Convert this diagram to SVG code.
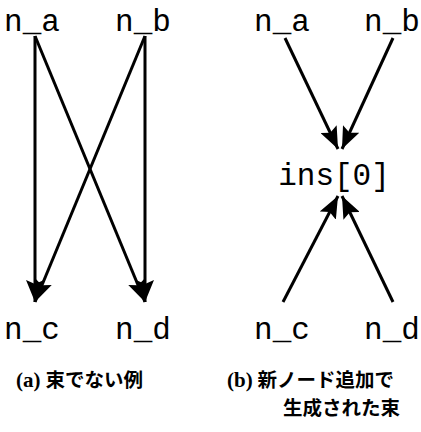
<svg xmlns="http://www.w3.org/2000/svg" width="421" height="432" viewBox="0 0 421 432">
<defs>
<style>
.lbl{font-family:"Liberation Mono","DejaVu Sans Mono",monospace;font-size:31px;fill:#000;text-anchor:middle}
.cap{font-family:"Liberation Serif","Noto Sans CJK JP",serif;font-size:19.5px;font-weight:bold;fill:#000}
.par{font-size:21px}
.edge{stroke:#000;stroke-width:3;fill:none;marker-end:url(#ah)}
</style>
<marker id="ah" viewBox="0 0 22 18" refX="22" refY="9" markerWidth="22" markerHeight="18" orient="auto" markerUnits="userSpaceOnUse">
<path d="M0,0 L22,9 L0,18 L4,9 z" fill="#000"/>
</marker>
</defs>
<rect width="421" height="432" fill="#fff"/>
<g id="edges">
<line class="edge" x1="35" y1="36" x2="35" y2="302"/>
<line class="edge" x1="35" y1="36" x2="145" y2="302"/>
<line class="edge" x1="145" y1="36" x2="145" y2="302"/>
<line class="edge" x1="145" y1="36" x2="35" y2="302"/>
<line class="edge" x1="285" y1="38" x2="338" y2="149"/>
<line class="edge" x1="393" y1="38" x2="342" y2="149"/>
<line class="edge" x1="283" y1="302" x2="338" y2="196"/>
<line class="edge" x1="393" y1="302" x2="342" y2="196"/>
</g>
<g id="a_n_a"><text class="lbl" x="32" y="31">n_a</text></g>
<g id="a_n_b"><text class="lbl" x="143" y="31">n_b</text></g>
<g id="a_n_c"><text class="lbl" x="32" y="339">n_c</text></g>
<g id="a_n_d"><text class="lbl" x="143" y="339">n_d</text></g>
<g id="b_n_a"><text class="lbl" x="282" y="31">n_a</text></g>
<g id="b_n_b"><text class="lbl" x="392" y="31">n_b</text></g>
<g id="b_ins0"><text class="lbl" x="334" y="185">ins[0]</text></g>
<g id="b_n_c"><text class="lbl" x="282" y="339">n_c</text></g>
<g id="b_n_d"><text class="lbl" x="392" y="339">n_d</text></g>
<g id="captions">
<text class="cap" x="16" y="387"><tspan class="par">(a)</tspan> 束でない例</text>
<text class="cap" x="227" y="387"><tspan class="par">(b)</tspan> 新ノード追加で</text>
<text class="cap" x="283" y="415">生成された束</text>
</g>
</svg>
